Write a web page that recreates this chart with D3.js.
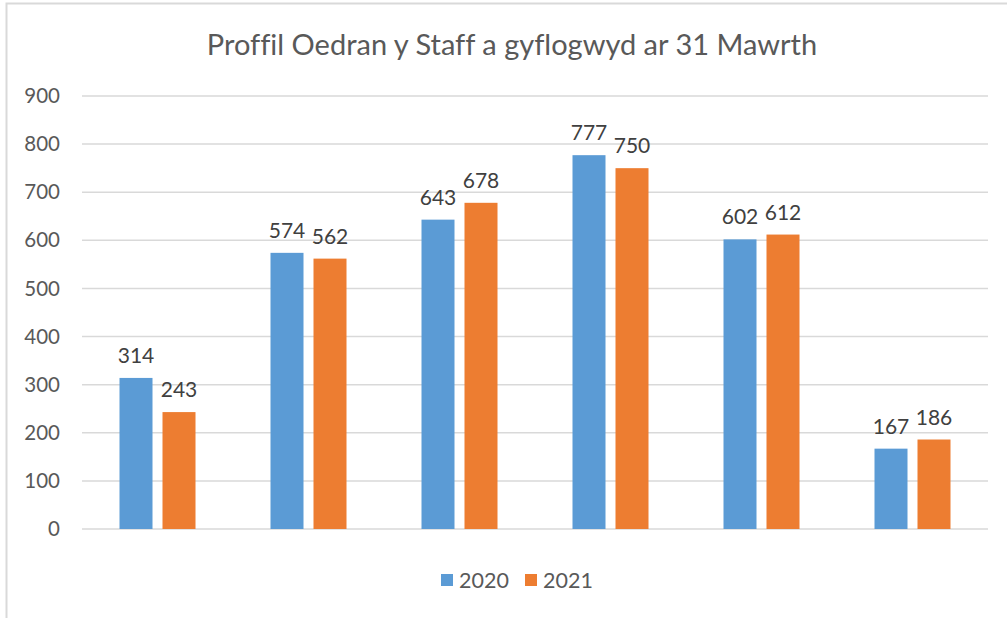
<!DOCTYPE html>
<html>
<head>
<meta charset="utf-8">
<script src="https://cdn.jsdelivr.net/npm/d3@7"></script>
<style>
  body { margin: 0; background: #fff; }
  text { font-family: Lato, "Open Sans", sans-serif; font-variant-ligatures: none; }
</style>
</head>
<body>
<div id="chart"></div>
<script>
// chart data
const categories = ["A", "B", "C", "D", "E", "F"];
const seriesNames = ["2020", "2021"];
const values2020 = [314, 574, 643, 777, 602, 167];
const values2021 = [243, 562, 678, 750, 612, 186];
const yTicks = [0, 100, 200, 300, 400, 500, 600, 700, 800, 900];
const colors = ["#5b9bd5", "#ed7d31"];

const width = 1007, height = 618;
const margin = { left: 82, right: 19, top: 96, bottom: 89 };

let svg = d3
    .select("#chart")
    .append("svg")
    .attr("width", width)
    .attr("height", height);

// outer chart border
svg.append("rect")
    .attr("x", 6.5)
    .attr("y", 3.5)
    .attr("width", width + 10)
    .attr("height", height + 10)
    .attr("fill", "#fff")
    .attr("stroke", "#d9d9d9")
    .attr("stroke-width", 2);

let x = d3.scaleBand()
    .domain(categories)
    .range([margin.left, width - margin.right]);

// two bars of 33px with a 10px gap
let xInner = d3.scaleBand()
    .domain(seriesNames)
    .range([0, 76])
    .paddingInner(10 / 43);

let y = d3.scaleLinear()
    .domain([0, 900])
    .range([height - margin.bottom, margin.top]);

// gridlines
svg.append("g")
    .selectAll("line")
    .data(yTicks)
    .enter()
    .append("line")
    .attr("x1", margin.left)
    .attr("x2", width - margin.right)
    .attr("y1", d => y(d))
    .attr("y2", d => y(d))
    .attr("stroke", "#d9d9d9")
    .attr("stroke-width", 1.5);

// y axis labels
let yAxis = d3.axisLeft(y).tickValues(yTicks).tickSize(0).tickPadding(0);
let yG = svg.append("g")
    .attr("transform", `translate(60,0)`)
    .call(yAxis);
yG.select(".domain").remove();
yG.selectAll("text")
    .style("font-size", "20.5px")
    .style("font-family", "Lato, 'Open Sans', sans-serif")
    .attr("fill", "#595959");

// bars
let rows = categories.map((c, i) => ({
    cat: c,
    vals: [
        { s: seriesNames[0], v: values2020[i], c: colors[0] },
        { s: seriesNames[1], v: values2021[i], c: colors[1] }
    ]
}));

let groups = svg.selectAll(".grp")
    .data(rows)
    .enter()
    .append("g")
    .attr("class", "grp")
    .attr("transform", d => `translate(${x(d.cat) + (x.bandwidth() - 76) / 2},0)`);

groups.selectAll("rect")
    .data(d => d.vals)
    .enter()
    .append("rect")
    .attr("x", d => xInner(d.s))
    .attr("width", xInner.bandwidth())
    .attr("y", d => y(d.v))
    .attr("height", d => y(0) - y(d.v))
    .attr("fill", d => d.c);

// value labels
groups.selectAll(".lbl")
    .data(d => d.vals)
    .enter()
    .append("text")
    .attr("class", "lbl")
    .attr("x", d => xInner(d.s) + xInner.bandwidth() / 2)
    .attr("y", d => y(d.v) - 15)
    .attr("text-anchor", "middle")
    .style("font-size", "21px")
    .attr("fill", "#404040")
    .text(d => d.v);

// title
svg.append("text")
    .attr("x", 512)
    .attr("y", 55)
    .attr("text-anchor", "middle")
    .style("font-size", "29px")
    .attr("fill", "#595959")
    .text("Proffil Oedran y Staff a gyflogwyd ar 31 Mawrth");

// legend
let legend = svg.append("g");
let legendX = [441, 525];
seriesNames.forEach((s, i) => {
    legend.append("rect")
        .attr("x", legendX[i])
        .attr("y", 574)
        .attr("width", 12)
        .attr("height", 12)
        .attr("fill", colors[i]);
    legend.append("text")
        .attr("x", legendX[i] + 18)
        .attr("y", 588)
        .style("font-size", "21.5px")
        .attr("fill", "#595959")
        .text(s);
});
</script>
</body>
</html>
